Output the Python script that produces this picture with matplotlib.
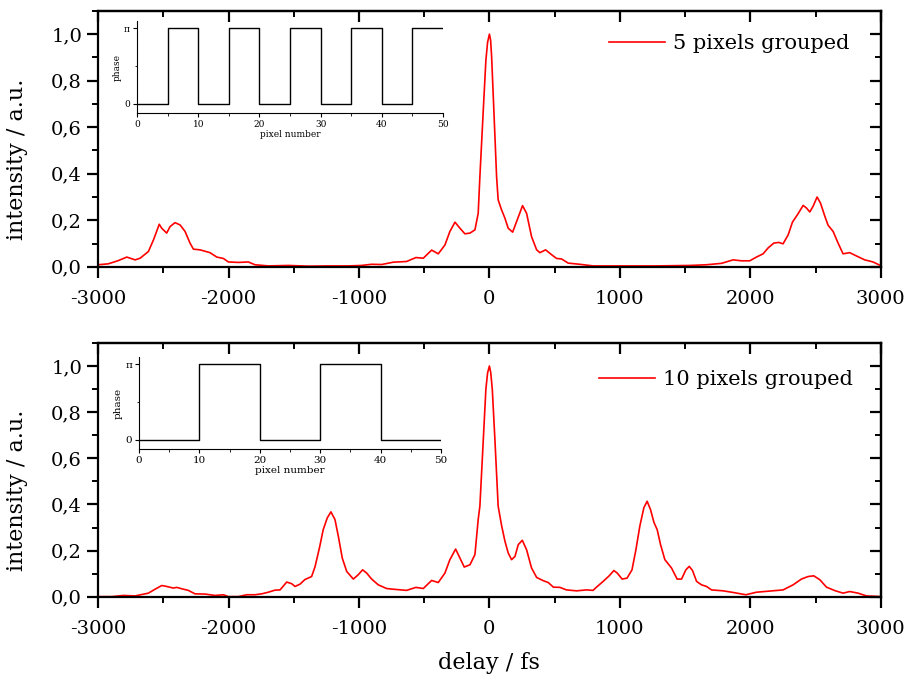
import numpy as np
import matplotlib
matplotlib.use("Agg")
import matplotlib.pyplot as plt
from matplotlib.ticker import MultipleLocator, FuncFormatter

plt.rcParams['font.family'] = ['DejaVu Serif']
plt.rcParams['axes.unicode_minus'] = False

# autocorrelation traces, delay in fs
delay_5 = [-3000, -2921, -2844, -2780, -2716, -2678, -2614, -2575, -2531, -2512,
           -2474, -2448, -2410, -2371, -2333, -2295, -2269, -2218, -2142, -2090,
           -2039, -2001, -1925, -1848, -1797, -1695, -1542, -1389, -1235, -1082,
           -980, -903, -826, -737, -635, -563, -507, -443, -392, -341,
           -303, -264, -226, -188, -149, -111, -86, -73, -47, -27,
           -14, 0, 9, 17, 34, 55, 67, 93, 119, 144, 178, 208,
           254, 285, 323, 362, 387, 431, 477, 515, 553, 604,
           693, 795, 1025, 1281, 1536, 1664, 1779, 1868, 1932, 1996,
           2047, 2098, 2136, 2180, 2218, 2251, 2290, 2323, 2366, 2405,
           2430, 2456, 2481, 2512, 2538, 2571, 2596, 2635, 2673, 2711,
           2762, 2813, 2877, 2941, 3000]
int_5 = [0.009, 0.013, 0.027, 0.042, 0.030, 0.037, 0.066, 0.116, 0.183, 0.166,
         0.145, 0.173, 0.190, 0.180, 0.152, 0.102, 0.076, 0.073, 0.061, 0.042,
         0.036, 0.021, 0.019, 0.021, 0.009, 0.004, 0.006, 0.003, 0.004, 0.004,
         0.006, 0.011, 0.010, 0.020, 0.023, 0.040, 0.037, 0.072, 0.056, 0.094,
         0.152, 0.192, 0.166, 0.142, 0.145, 0.159, 0.230, 0.388, 0.674, 0.888,
         0.965, 1.000, 0.975, 0.903, 0.674, 0.388, 0.288, 0.245, 0.209, 0.166, 0.149, 0.194,
         0.263, 0.230, 0.130, 0.073, 0.061, 0.073, 0.052, 0.036, 0.034, 0.016,
         0.011, 0.004, 0.004, 0.004, 0.006, 0.009, 0.015, 0.030, 0.026, 0.026,
         0.042, 0.056, 0.081, 0.102, 0.105, 0.099, 0.137, 0.192, 0.228, 0.264,
         0.253, 0.236, 0.260, 0.300, 0.274, 0.218, 0.179, 0.152, 0.102, 0.056,
         0.061, 0.047, 0.030, 0.021, 0.005]

delay_10 = [-3000, -2895, -2805, -2716, -2614, -2563, -2512, -2474, -2423, -2397,
            -2359, -2308, -2257, -2180, -2103, -2039, -2001, -1925, -1861, -1797,
            -1746, -1695, -1644, -1605, -1554, -1516, -1490, -1452, -1414, -1363,
            -1337, -1303, -1274, -1243, -1215, -1184, -1158, -1128, -1094, -1043,
            -1005, -972, -941, -903, -852, -788, -737, -635, -563, -507,
            -443, -392, -341, -303, -259, -226, -193, -149, -111, -86,
            -73, -47, -27, -14, 0, 10, 22, 42, 67, 93, 119, 144,
            170, 196, 221, 252, 285, 323, 362, 413, 451, 490,
            540, 591, 668, 744, 795, 821, 872, 918, 954, 980,
            1017, 1055, 1093, 1123, 1153, 1184, 1209, 1235, 1261, 1286,
            1312, 1345, 1396, 1439, 1473, 1506, 1532, 1557, 1588, 1626,
            1664, 1703, 1792, 1868, 1966, 2047, 2174, 2251, 2328, 2392,
            2443, 2487, 2533, 2584, 2648, 2711, 2762, 2826, 2890, 3000]
int_10 = [0.001, 0.001, 0.006, 0.004, 0.016, 0.033, 0.049, 0.045, 0.038, 0.041,
          0.035, 0.028, 0.013, 0.012, 0.006, 0.009, 0.001, 0.001, 0.009, 0.009,
          0.013, 0.020, 0.029, 0.030, 0.064, 0.057, 0.045, 0.055, 0.075, 0.088,
          0.130, 0.212, 0.291, 0.342, 0.368, 0.335, 0.262, 0.168, 0.110, 0.077,
          0.096, 0.117, 0.103, 0.077, 0.052, 0.036, 0.033, 0.028, 0.041, 0.036,
          0.071, 0.062, 0.103, 0.161, 0.207, 0.168, 0.129, 0.139, 0.183, 0.335,
          0.393, 0.683, 0.900, 0.970, 1.000, 0.972, 0.900, 0.683, 0.393, 0.310, 0.241, 0.190,
          0.161, 0.175, 0.226, 0.245, 0.204, 0.125, 0.084, 0.070, 0.062, 0.042,
          0.041, 0.030, 0.026, 0.030, 0.028, 0.042, 0.067, 0.091, 0.114, 0.103,
          0.077, 0.081, 0.117, 0.204, 0.306, 0.386, 0.414, 0.378, 0.323, 0.291,
          0.226, 0.161, 0.125, 0.077, 0.077, 0.117, 0.132, 0.114, 0.067, 0.052,
          0.045, 0.030, 0.026, 0.019, 0.009, 0.020, 0.026, 0.030, 0.052, 0.077,
          0.088, 0.091, 0.074, 0.042, 0.027, 0.016, 0.023, 0.016, 0.004, 0.001]

# phase masks (in units of pi), step edges in pixel number
pix_5 = [0, 5, 10, 15, 20, 25, 30, 35, 40, 45, 50]
phase_5 = [0, 1, 0, 1, 0, 1, 0, 1, 0, 1, 1]
pix_10 = [0, 10, 20, 30, 40, 50]
phase_10 = [0, 1, 0, 1, 0, 0]

labels = ["5 pixels grouped", "10 pixels grouped"]

fig = plt.figure(figsize=(9.08, 6.79), dpi=100)

comma = FuncFormatter(lambda v, _: f"{v:.1f}".replace('.', ','))


def main_panel(rect, x, y, label, leg_xy):
    ax = fig.add_axes(rect)
    ax.plot(x, y, color='#ff0000', lw=1.2, label=label)
    ax.set_xlim(-3000, 3000)
    ax.set_ylim(0, 1.1)
    ax.xaxis.set_major_locator(MultipleLocator(1000))
    ax.xaxis.set_minor_locator(MultipleLocator(500))
    ax.yaxis.set_major_locator(MultipleLocator(0.2))
    ax.yaxis.set_minor_locator(MultipleLocator(0.1))
    ax.yaxis.set_major_formatter(comma)
    ax.tick_params(which='major', direction='out', length=8, width=1.6, labelsize=14)
    ax.tick_params(which='minor', direction='out', length=4.5, width=1.4)
    ax.tick_params(axis='x', which='major', pad=9)
    for s in ax.spines.values():
        s.set_linewidth(1.6)
    ax.set_ylabel("intensity / a.u.", fontsize=16)
    ax.yaxis.set_label_coords(-0.089, 0.42)

    # mirrored ticks on top and right point inwards
    top = ax.secondary_xaxis('top')
    top.xaxis.set_major_locator(MultipleLocator(1000))
    top.xaxis.set_minor_locator(MultipleLocator(500))
    top.tick_params(which='major', direction='in', length=8, width=1.6, labeltop=False)
    top.tick_params(which='minor', direction='in', length=4.5, width=1.4)
    top.spines['top'].set_linewidth(1.6)
    right = ax.secondary_yaxis('right')
    right.yaxis.set_major_locator(MultipleLocator(0.2))
    right.yaxis.set_minor_locator(MultipleLocator(0.1))
    right.tick_params(which='major', direction='in', length=8, width=1.6, labelright=False)
    right.tick_params(which='minor', direction='in', length=4.5, width=1.4)
    right.spines['right'].set_linewidth(1.6)

    ax.legend(loc='center left', bbox_to_anchor=leg_xy, frameon=False,
              fontsize=15, handlelength=2.7, handletextpad=0.35,
              borderpad=0, borderaxespad=0)
    return ax


def inset(rect, pix, phase, lab_size, tick_size):
    ins = fig.add_axes(rect)
    ins.set_facecolor('none')
    ins.plot(pix, np.array(phase) * np.pi, drawstyle='steps-post', color='black', lw=1.0)
    ins.set_xlim(0, 50)
    ins.set_ylim(-0.12 * np.pi, 1.09 * np.pi)
    ins.set_xticks([0, 10, 20, 30, 40, 50])
    ins.xaxis.set_minor_locator(MultipleLocator(5))
    ins.set_yticks([0, np.pi])
    ins.set_yticklabels(["0", "π"])
    ins.set_yticks([np.pi / 2], minor=True)
    ins.spines['top'].set_visible(False)
    ins.spines['right'].set_visible(False)
    for s in ('left', 'bottom'):
        ins.spines[s].set_linewidth(0.8)
    ins.tick_params(which='major', direction='out', length=3, width=0.8,
                    labelsize=tick_size, pad=2)
    ins.tick_params(which='minor', direction='out', length=1.8, width=0.6)
    ins.set_xlabel("pixel number", fontsize=lab_size, labelpad=1)
    ins.set_ylabel("phase", fontsize=lab_size, labelpad=2)
    return ins


ax1 = main_panel([0.108, 0.607, 0.862, 0.377], delay_5, int_5, labels[0], (0.653, 0.871))
ax2 = main_panel([0.108, 0.121, 0.862, 0.374], delay_10, int_10, labels[1], (0.640, 0.854))
ax2.set_xlabel("delay / fs", fontsize=16, labelpad=10)

inset([0.1509, 0.8336, 0.337, 0.1348], pix_5, phase_5, 6.5, 6.5)
inset([0.1531, 0.3387, 0.3326, 0.1348], pix_10, phase_10, 7.5, 7.5)

fig.savefig("out.png", dpi=100)
